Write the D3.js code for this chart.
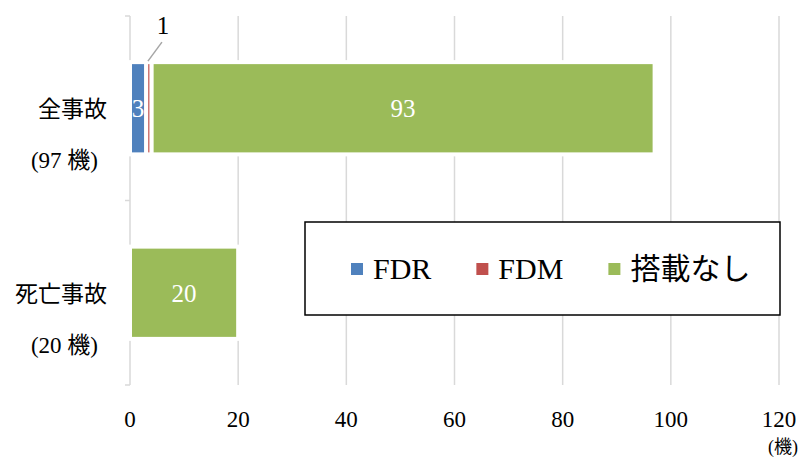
<!DOCTYPE html>
<html>
<head>
<meta charset="utf-8">
<script src="https://cdn.jsdelivr.net/npm/d3@7"></script>
<style>
  body { margin: 0; background: #fff; }
  text { font-family: "Liberation Serif", "Noto Sans CJK JP", serif; }
</style>
</head>
<body>
<div id="chart"></div>
<script>
// data
const categories = ["全事故", "死亡事故"];
const categoryCounts = ["(97 機)", "(20 機)"];
const seriesNames = ["FDR", "FDM", "搭載なし"];
const fdr = [3, 0];
const fdm = [1, 0];
const nashi = [93, 20];
const xTicks = [0, 20, 40, 60, 80, 100, 120];
const unitLabel = "(機)";

const colors = ["#4F81BD", "#C0504D", "#9BBB59"];

const width = 805, height = 457;
const margin = { top: 16, right: 26, bottom: 72, left: 130 };

const svg = d3.select("#chart").append("svg")
      .attr("width", width)
      .attr("height", height);

const g = svg.append("g")
      .attr("transform", "translate(" + margin.left + "," + margin.top + ")");

const w = width - margin.left - margin.right;
const h = height - margin.top - margin.bottom;

const xScale = d3.scaleLinear().domain([0, 120]).range([0, w]);
const yScale = d3.scaleBand().domain(categories).range([0, h])
      .paddingInner(0.5).paddingOuter(0.25);

// grid
g.append("g").selectAll("line")
      .data(xTicks.filter(d => d > 0))
      .join("line")
      .attr("x1", d => xScale(d)).attr("x2", d => xScale(d))
      .attr("y1", 0).attr("y2", h)
      .attr("stroke", "#D9D9D9").attr("stroke-width", 1.5);

// y axis line + ticks
g.append("line").attr("x1", 0).attr("x2", 0).attr("y1", 0).attr("y2", h)
      .attr("stroke", "#D9D9D9").attr("stroke-width", 1.5);
g.append("g").selectAll("line")
      .data([0, 1, 2])
      .join("line")
      .attr("x1", -5).attr("x2", 0)
      .attr("y1", d => d * (h / 2))
      .attr("y2", d => d * (h / 2))
      .attr("stroke", "#D9D9D9").attr("stroke-width", 1.5);

// x tick labels
g.append("g").selectAll("text")
      .data(xTicks)
      .join("text")
      .attr("x", d => xScale(d))
      .attr("y", h + 42)
      .attr("text-anchor", "middle")
      .attr("font-size", 23)
      .attr("fill", "#000")
      .text(d => d);

svg.append("text")
      .attr("x", margin.left + w + 4)
      .attr("y", 453)
      .attr("text-anchor", "middle")
      .attr("font-size", 18)
      .text(unitLabel);

// stacked bars
const rows = categories.map((c, i) => ({ cat: c, FDR: fdr[i], FDM: fdm[i], "搭載なし": nashi[i] }));
const stacked = d3.stack().keys(seriesNames)(rows);

const layers = g.append("g").selectAll("g")
      .data(stacked)
      .join("g")
      .attr("fill", (d, i) => colors[i]);

layers.selectAll("rect")
      .data(d => d.filter(s => s[1] - s[0] > 0))
      .join("rect")
      .attr("x", d => xScale(d[0]))
      .attr("width", d => xScale(d[1]) - xScale(d[0]))
      .attr("y", d => yScale(d.data.cat))
      .attr("height", yScale.bandwidth())
      .attr("stroke", "#fff")
      .attr("stroke-width", 4);

// data labels inside
stacked.forEach((layer, k) => {
  layer.forEach(s => {
    const v = s[1] - s[0];
    if (v <= 0 || seriesNames[k] === "FDM") return;
    g.append("text")
      .attr("x", (xScale(s[0]) + xScale(s[1])) / 2)
      .attr("y", yScale(s.data.cat) + yScale.bandwidth() / 2 + 9)
      .attr("text-anchor", "middle")
      .attr("font-size", 25)
      .attr("fill", "#fff")
      .text(v);
  });
});

// FDM label with leader line
const fdmSeg = stacked[1][0];
const fdmX = (xScale(fdmSeg[0]) + xScale(fdmSeg[1])) / 2;
g.append("line")
      .attr("x1", fdmX - 1).attr("y1", yScale(categories[0]) - 1)
      .attr("x2", fdmX + 13).attr("y2", yScale(categories[0]) - 20)
      .attr("stroke", "#A6A6A6").attr("stroke-width", 1.5);
g.append("text")
      .attr("x", fdmX + 14)
      .attr("y", 18)
      .attr("text-anchor", "middle")
      .attr("font-size", 25)
      .text(fdm[0]);

// category labels
categories.forEach((c, i) => {
  const cy = yScale(c) + yScale.bandwidth() / 2;
  g.append("text")
    .attr("x", -23).attr("y", cy + 9)
    .attr("text-anchor", "end")
    .attr("font-size", 23)
    .text(c);
  g.append("text")
    .attr("x", -32).attr("y", cy + 60)
    .attr("text-anchor", "end")
    .attr("font-size", 23)
    .text(categoryCounts[i]);
});

// legend
const lg = svg.append("g");
lg.append("rect")
      .attr("x", 305).attr("y", 222)
      .attr("width", 475).attr("height", 93)
      .attr("fill", "#fff").attr("stroke", "#000").attr("stroke-width", 1.5);
let lx = 351;
seriesNames.forEach((name, i) => {
  lg.append("rect")
    .attr("x", lx).attr("y", 263)
    .attr("width", 12).attr("height", 12)
    .attr("fill", colors[i]);
  const t = lg.append("text")
    .attr("x", lx + 22).attr("y", 279)
    .attr("font-size", 30)
    .text(name);
  lx += 22 + t.node().getComputedTextLength() + 45;
});
</script>
</body>
</html>
